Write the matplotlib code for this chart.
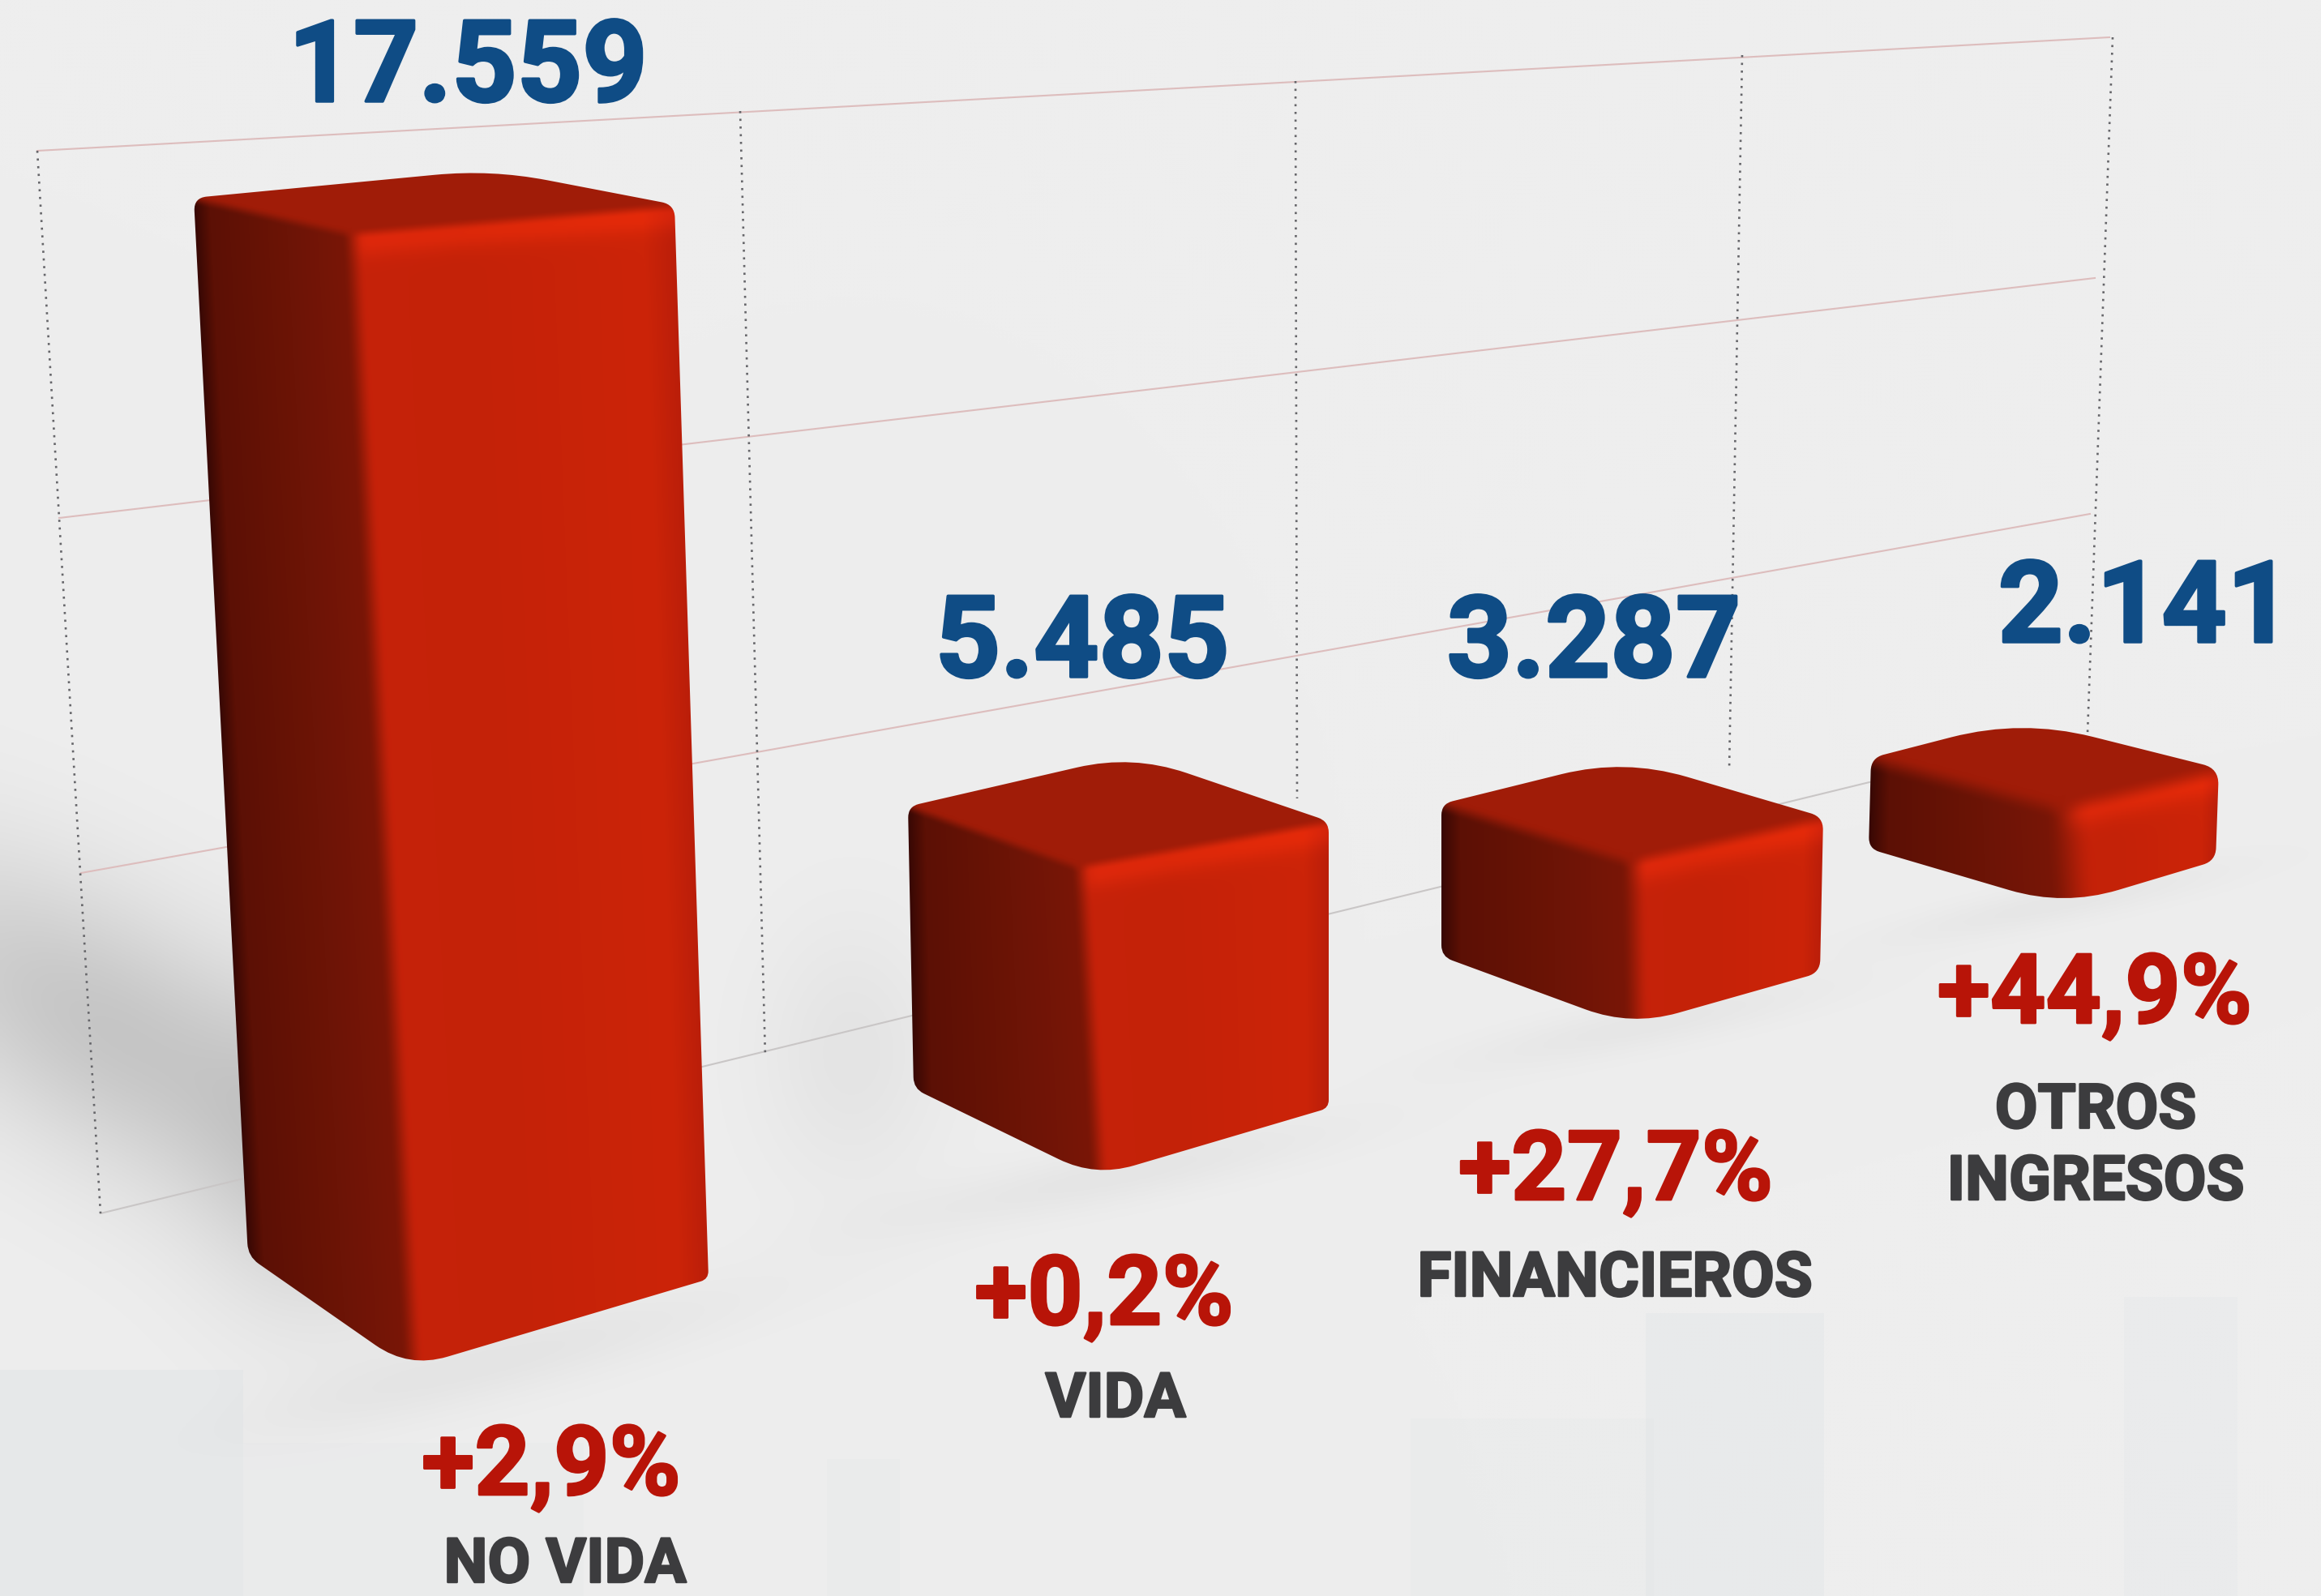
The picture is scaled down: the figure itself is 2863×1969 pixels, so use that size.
import matplotlib
matplotlib.use("Agg")
import matplotlib.pyplot as plt
import matplotlib.patheffects as pe
from matplotlib.patches import PathPatch, Rectangle
from matplotlib.path import Path
import numpy as np

# chart data
categories = ["NO VIDA", "VIDA", "FINANCIEROS", "OTROS\nINGRESOS"]
values = [17559, 5485, 3287, 2141]
growth = ["+2,9%", "+0,2%", "+27,7%", "+44,9%"]

W, H = 2863, 1969
BLUE = "#0F4C85"
RED = "#B81408"
GREY = "#3C3C3E"

# floor corners of each bar (left, front, right), in picture pixels
base_left = [(306, 1550), (1127, 1343), (1778, 1180), (2305, 1047)]
base_front = [(504, 1688), (1351, 1452), (2012, 1266), (2546, 1118)]
base_right = [(874, 1578), (1639, 1367), (2245, 1200), (2733, 1062)]
# perspective: pixels of height per unit of value at the front edge
px_per_unit = [0.0798, 0.0698, 0.0621, 0.0574]
# lean of the bar top relative to the floor corners
lean_left = [-67, -7, 0, 3]
lean_front = [-75, -23, -4, -8]
lean_right = [-42, 0, 4, 4]
left_ratio = [0.932, 0.909, 0.922, 0.911]
right_ratio = [0.946, 0.924, 0.941, 0.927]
# back corner of the top face, relative to the top left corner
back_offset = [(367, -35), (277, -64), (226, -56), (186, -48)]
# softness of the seams between faces and corner radii, per bar
seam_soft = [28, 26, 34, 60]
top_soft = [16, 16, 22, 30]
corner_r = [[16, 70, 16, 10, 50, 16], [14, 70, 14, 10, 50, 14], [14, 80, 16, 16, 60, 14], [16, 90, 20, 16, 70, 14]]

# gridlines of the back wall
h_lines = [((46, 186), (2602, 46), "#DDBDBD"), ((73, 639), (2584, 343), "#DDBDBD"),
           ((100, 1077), (2578, 634), "#DDBDBD"), ((124, 1497), (2310, 964), "#C9C6C6")]
v_lines = [((46, 186), (124, 1497)), ((913, 137), (944, 1305)), ((1598, 100), (1600, 985)),
           ((2149, 68), (2133, 950)), ((2606, 46), (2575, 905))]

# label anchors: centre x, baseline y
value_pos = [(577, 125), (1335, 835), (1966, 835), (2646, 792)]
growth_pos = [(680, 1844), (1362, 1634), (1993, 1480), (2584, 1262)]
label_pos = [(697, 1952), (1376, 1748), (1992, 1599), (2585, 1480)]

plt.rcParams["font.family"] = ["Roboto", "DejaVu Sans"]


def gauss(X, Y, cx, cy, sx, sy, angle=0.0):
    c, s = np.cos(angle), np.sin(angle)
    dx, dy = X - cx, Y - cy
    return np.exp(-((dx * c + dy * s) / sx) ** 2 - ((-dx * s + dy * c) / sy) ** 2)


def smooth(t):
    t = np.clip(t, 0, 1)
    return t * t * (3 - 2 * t)


def rounded_path(points, radii):
    # closed polygon with quadratic corners
    verts, codes = [], []
    n = len(points)
    for i in range(n):
        p = np.array(points[i], float)
        a = np.array(points[i - 1], float)
        b = np.array(points[(i + 1) % n], float)
        r = radii[i]
        p1 = p + (a - p) / np.linalg.norm(a - p) * r
        p2 = p + (b - p) / np.linalg.norm(b - p) * r
        verts.append(p1)
        codes.append(Path.MOVETO if i == 0 else Path.LINETO)
        verts += [p, p2]
        codes += [Path.CURVE3, Path.CURVE3]
    verts.append(verts[0])
    codes.append(Path.CLOSEPOLY)
    return Path(verts, codes)


def ramp(t, stops, colors):
    colors = np.array(colors, float)
    return np.dstack([np.interp(t, stops, colors[:, k]) for k in range(3)])


fig = plt.figure(figsize=(W / 100, H / 100), dpi=100)
ax = fig.add_axes([0, 0, 1, 1])
ax.axis("off")

# backdrop with the soft shadows
gx, gy = np.meshgrid(np.linspace(0, W, 573), np.linspace(0, H, 394))
shade = 238 - 40 * gauss(gx, gy, 130, 1270, 330, 150, 0.55)
shade -= 26 * gauss(gx, gy, 380, 1420, 130, 190)
shade -= 10 * gauss(gx, gy, 1050, 1300, 110, 160)
shade -= 9 * gauss(gx, gy, 620, 1680, 330, 45, -0.25)
shade -= 9 * gauss(gx, gy, 1380, 1450, 290, 35, -0.2)
shade -= 8 * gauss(gx, gy, 2030, 1265, 240, 30, -0.2)
shade -= 8 * gauss(gx, gy, 2540, 1115, 220, 25, -0.2)
back = np.dstack([shade, shade, shade]) / 255
ax.imshow(back, extent=[0, W, H, 0], aspect="auto", interpolation="bilinear", zorder=0)

# faint skyline behind the lower labels
for x0, y0, w, h, a in [(0, 1690, 300, 279, 0.30), (300, 1780, 420, 189, 0.10), (1020, 1800, 90, 169, 0.14),
                        (1740, 1750, 300, 219, 0.13), (2030, 1620, 220, 349, 0.24), (2620, 1600, 140, 369, 0.16)]:
    ax.add_patch(Rectangle((x0, y0), w, h, color="#D9DFE3", alpha=a, lw=0, zorder=1))

for p0, p1, col in h_lines:
    ax.plot([p0[0], p1[0]], [p0[1], p1[1]], color=col, lw=1.5, zorder=2)
for p0, p1 in v_lines:
    ax.plot([p0[0], p1[0]], [p0[1], p1[1]], color="#66666A", lw=1.9, ls=(0, (1, 2.6)), zorder=2)

LEFT_COL = [(56, 8, 4), (92, 16, 5), (108, 20, 6), (122, 22, 6)]
FRONT_COL = [(198, 34, 10), (196, 34, 8), (204, 36, 8), (186, 30, 10)]

for i, value in enumerate(values):
    h = value * px_per_unit[i]
    bl, bf, br = np.array(base_left[i], float), np.array(base_front[i], float), np.array(base_right[i], float)
    tl = np.array([bl[0] + lean_left[i], bl[1] - h * left_ratio[i]])
    tf = np.array([bf[0] + lean_front[i], bf[1] - h])
    tr = np.array([br[0] + lean_right[i], br[1] - h * right_ratio[i]])
    tb = tl + np.array(back_offset[i], float)

    x0, x1 = min(tl[0], bl[0]) - 4, max(tr[0], br[0]) + 4
    y0, y1 = tb[1] - 4, bf[1] + 4
    xs = np.arange(x0, x1, 1.0)
    ys = np.arange(y0, y1, 1.0)
    X, Y = np.meshgrid(xs, ys)

    # seams between the three faces
    seam = tf[0] + (bf[0] - tf[0]) * (Y - tf[1]) / (bf[1] - tf[1])
    edge = np.interp(X, [tl[0], tf[0], tr[0]], [tl[1], tf[1], tr[1]])
    left_edge = tl[0] + (bl[0] - tl[0]) * (Y - tl[1]) / (bl[1] - tl[1])
    right_edge = tr[0] + (br[0] - tr[0]) * (Y - tr[1]) / (br[1] - tr[1])

    u = np.clip((X - left_edge) / (seam - left_edge), 0, 1)
    v = np.clip((X - seam) / (right_edge - seam), 0, 1)
    side = ramp(u, [0, 0.1, 0.6, 1], LEFT_COL)
    front = ramp(v, [0, 0.35, 0.9, 1], FRONT_COL)
    s = smooth((X - seam + seam_soft[i] * 0.3) / seam_soft[i])[..., None]
    img = side * (1 - s) + front * s

    # highlight just under the top front edges, stronger on the front face
    glow = np.exp(-((Y - edge - 12) / 20) ** 2) * smooth((X - seam + 10) / 40)
    img += glow[..., None] * np.array([24, 6, 2])

    top = np.array([160, 28, 8.0])
    t = smooth((edge - Y + top_soft[i] * 0.6) / top_soft[i])[..., None]
    img = img * (1 - t) + top * t
    img = np.clip(img / 255, 0, 1)

    shape = rounded_path([tl, tb, tr, br, bf, bl], corner_r[i])
    patch = PathPatch(shape, facecolor="none", edgecolor="none", transform=ax.transData)
    ax.add_patch(patch)
    im = ax.imshow(img, extent=[x0, x1, y1, y0], aspect="auto", interpolation="bilinear", zorder=3)
    im.set_clip_path(patch)

    # texts
    vx, vy = value_pos[i]
    ax.text(vx, vy, f"{value:,}".replace(",", "."), color=BLUE, fontsize=101, fontweight="bold",
            ha="center", va="baseline", zorder=5,
            path_effects=[pe.withStroke(linewidth=2.5, foreground=BLUE)])
    gx_, gy_ = growth_pos[i]
    ax.text(gx_, gy_, growth[i], color=RED, fontsize=86, fontweight="bold",
            ha="center", va="baseline", zorder=5,
            path_effects=[pe.withStroke(linewidth=2, foreground=RED)])
    lx, ly = label_pos[i]
    ax.text(lx, ly, categories[i], color=GREY, fontsize=55, fontweight="bold", ha="center", va="baseline",
            linespacing=1.27, zorder=5,
            path_effects=[pe.withStroke(linewidth=1.8, foreground=GREY)])

ax.set_xlim(0, W)
ax.set_ylim(H, 0)
fig.savefig("out.png", dpi=100)
